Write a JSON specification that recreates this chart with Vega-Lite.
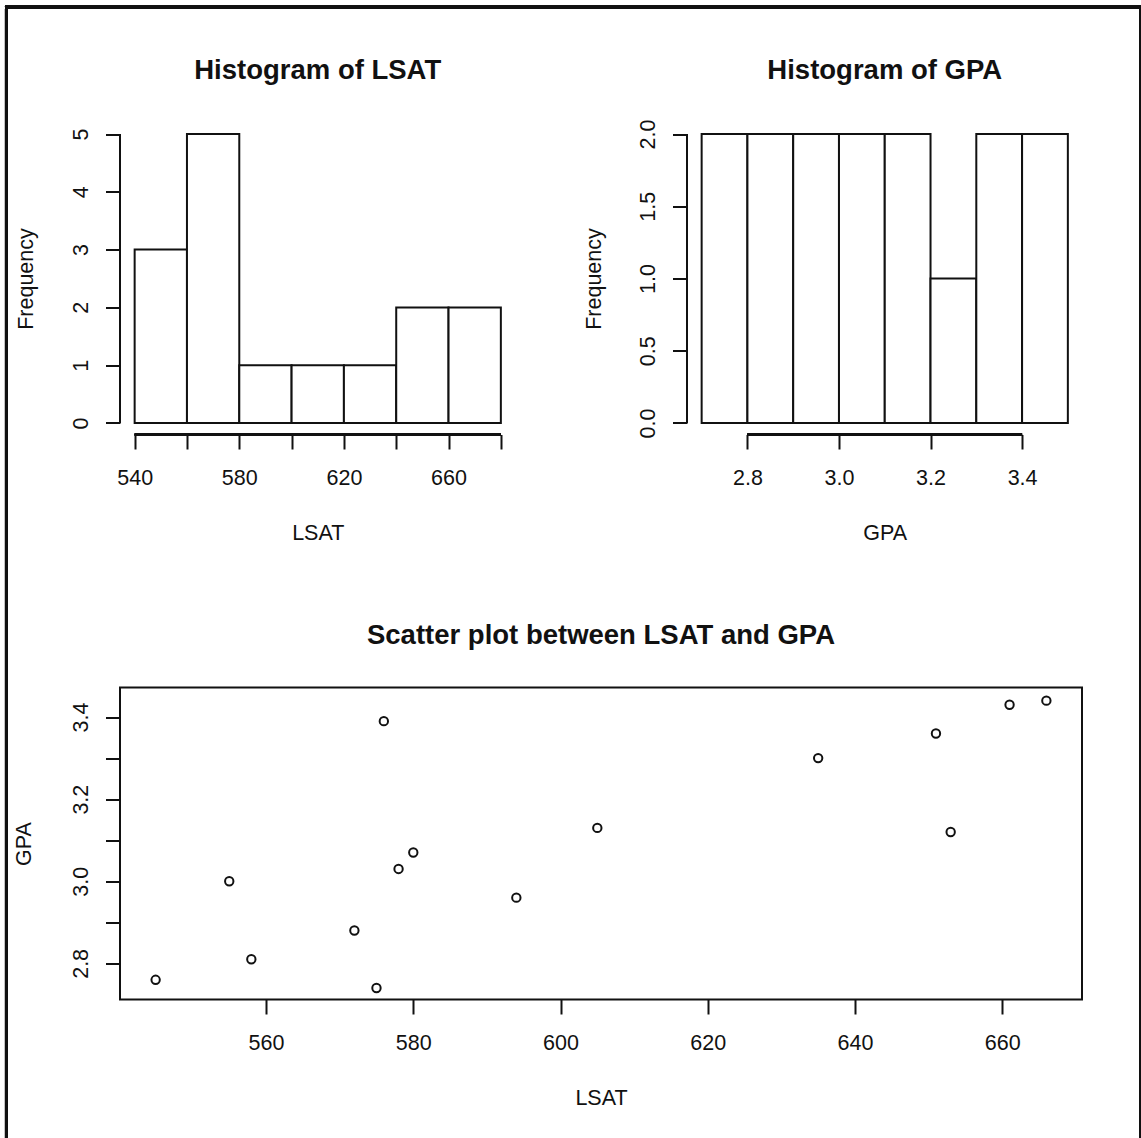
{
  "$schema": "https://vega.github.io/schema/vega-lite/v6.json",
  "autosize": {"type": "none"},
  "padding": {"left": 120, "top": 122.5, "right": 1021, "bottom": 1015.5},
  "background": "white",
  "bounds": "flush",
  "spacing": 565,
  "datasets": {
    "lsat_bins": [
      {"lo": 540, "hi": 560, "n": 3},
      {"lo": 560, "hi": 580, "n": 5},
      {"lo": 580, "hi": 600, "n": 1},
      {"lo": 600, "hi": 620, "n": 1},
      {"lo": 620, "hi": 640, "n": 1},
      {"lo": 640, "hi": 660, "n": 2},
      {"lo": 660, "hi": 680, "n": 2}
    ],
    "gpa_bins": [
      {"lo": 2.7, "hi": 2.8, "n": 2},
      {"lo": 2.8, "hi": 2.9, "n": 2},
      {"lo": 2.9, "hi": 3.0, "n": 2},
      {"lo": 3.0, "hi": 3.1, "n": 2},
      {"lo": 3.1, "hi": 3.2, "n": 2},
      {"lo": 3.2, "hi": 3.3, "n": 1},
      {"lo": 3.3, "hi": 3.4, "n": 2},
      {"lo": 3.4, "hi": 3.5, "n": 2}
    ],
    "law": [
      {"LSAT": 576, "GPA": 3.39},
      {"LSAT": 635, "GPA": 3.30},
      {"LSAT": 558, "GPA": 2.81},
      {"LSAT": 578, "GPA": 3.03},
      {"LSAT": 666, "GPA": 3.44},
      {"LSAT": 580, "GPA": 3.07},
      {"LSAT": 555, "GPA": 3.00},
      {"LSAT": 661, "GPA": 3.43},
      {"LSAT": 651, "GPA": 3.36},
      {"LSAT": 605, "GPA": 3.13},
      {"LSAT": 653, "GPA": 3.12},
      {"LSAT": 575, "GPA": 2.74},
      {"LSAT": 545, "GPA": 2.76},
      {"LSAT": 572, "GPA": 2.88},
      {"LSAT": 594, "GPA": 2.96}
    ]
  },
  "config": {
    "font": "Liberation Sans",
    "view": {"stroke": null},
    "axis": {
      "grid": false,
      "domain": false,
      "labelFont": "Liberation Sans",
      "titleFont": "Liberation Sans",
      "labelFontSize": 21.5,
      "titleFontSize": 21.5,
      "titleFontWeight": "normal",
      "labelColor": "#111",
      "titleColor": "#111",
      "tickColor": "#111",
      "tickWidth": 2,
      "tickSize": 14.5,
      "labelOverlap": false,
      "labelFlush": false
    },
    "axisX": {
      "labelAngle": 0,
      "labelAlign": "center",
      "labelBaseline": "top",
      "labelPadding": 18,
      "titleBaseline": "top",
      "titlePadding": 34
    },
    "axisY": {
      "labelAngle": 270,
      "labelAlign": "center",
      "labelBaseline": "alphabetic",
      "labelPadding": 18.3,
      "titleAngle": 270,
      "titleBaseline": "alphabetic",
      "titlePadding": 37
    },
    "title": {
      "font": "Liberation Sans",
      "fontSize": 27.5,
      "fontWeight": "bold",
      "color": "#111",
      "anchor": "middle",
      "frame": "group",
      "baseline": "alphabetic",
      "offset": 35
    }
  },
  "vconcat": [
    {
      "bounds": "flush",
      "spacing": 171,
      "hconcat": [
        {
          "title": {"text": "Histogram of LSAT", "offset": 38},
          "width": 395.5,
          "height": 312,
          "data": {"name": "lsat_bins"},
          "layer": [
            {
              "mark": {"type": "rect", "fill": "white", "stroke": "#111", "strokeWidth": 2},
              "encoding": {
                "x": {"field": "lo", "type": "quantitative", "scale": {"domain": [534.4, 685.6], "nice": false, "zero": false},
                      "axis": {"title": "LSAT", "format": "d", "values": [540, 560, 580, 600, 620, 640, 660, 680], "labelExpr": "datum.value % 40 == 0 ? '' : datum.label"}},
                "x2": {"field": "hi"},
                "y": {"field": "n", "type": "quantitative", "scale": {"domain": [-0.2, 5.2], "nice": false, "zero": false},
                      "axis": {"title": "Frequency", "titlePadding": 38, "format": "d", "values": [0, 1, 2, 3, 4, 5]}},
                "y2": {"datum": 0}
              }
            },
            {
              "mark": {"type": "rule", "stroke": "#111", "strokeWidth": 2},
              "encoding": {"x": {"datum": 540}, "x2": {"datum": 680}, "y": {"datum": -0.2}}
            },
            {
              "mark": {"type": "rule", "stroke": "#111", "strokeWidth": 2},
              "encoding": {"x": {"datum": 534.4}, "y": {"datum": 0}, "y2": {"datum": 5}}
            }
          ]
        },
        {
          "title": {"text": "Histogram of GPA", "offset": 35},
          "width": 395.5,
          "height": 312,
          "data": {"name": "gpa_bins"},
          "layer": [
            {
              "mark": {"type": "rect", "fill": "white", "stroke": "#111", "strokeWidth": 2},
              "encoding": {
                "x": {"field": "lo", "type": "quantitative", "scale": {"domain": [2.668, 3.532], "nice": false, "zero": false},
                      "axis": {"title": "GPA", "values": [2.8, 3.0, 3.2, 3.4], "format": ".1f"}},
                "x2": {"field": "hi"},
                "y": {"field": "n", "type": "quantitative", "scale": {"domain": [-0.08, 2.08], "nice": false, "zero": false},
                      "axis": {"title": "Frequency", "values": [0, 0.5, 1, 1.5, 2], "format": ".1f"}},
                "y2": {"datum": 0}
              }
            },
            {
              "mark": {"type": "rule", "stroke": "#111", "strokeWidth": 2},
              "encoding": {"x": {"datum": 2.8}, "x2": {"datum": 3.4}, "y": {"datum": -0.08}}
            },
            {
              "mark": {"type": "rule", "stroke": "#111", "strokeWidth": 2},
              "encoding": {"x": {"datum": 2.668}, "y": {"datum": 0}, "y2": {"datum": 2}}
            }
          ]
        }
      ]
    },
    {
      "title": {"text": "Scatter plot between LSAT and GPA", "offset": -644},
      "width": 962,
      "height": 312,
      "view": {"stroke": "#111", "strokeWidth": 2},
      "data": {"name": "law"},
      "layer": [
        {
          "mark": {"type": "point", "shape": "circle", "filled": false, "stroke": "#111", "strokeWidth": 2, "size": 70, "opacity": 1},
          "encoding": {
            "x": {"field": "LSAT", "type": "quantitative", "scale": {"domain": [540.16, 670.84], "nice": false, "zero": false},
                  "axis": {"title": "LSAT", "format": "d", "values": [560, 580, 600, 620, 640, 660]}},
            "y": {"field": "GPA", "type": "quantitative", "scale": {"domain": [2.712, 3.472], "nice": false, "zero": false},
                  "axis": {"title": "GPA", "titlePadding": 40, "values": [2.8, 2.9, 3.0, 3.1, 3.2, 3.3, 3.4], "format": ".1f", "labelExpr": "round(datum.value * 10) % 2 == 1 ? '' : datum.label"}}
          }
        },
        {
          "mark": {"type": "rect", "fill": null, "stroke": "#111", "strokeWidth": 3, "clip": false},
          "encoding": {
            "x": {"datum": 524.74}, "x2": {"datum": 678.83},
            "y": {"datum": 5.129}, "y2": {"datum": 2.358}
          }
        }
      ]
    }
  ]
}
